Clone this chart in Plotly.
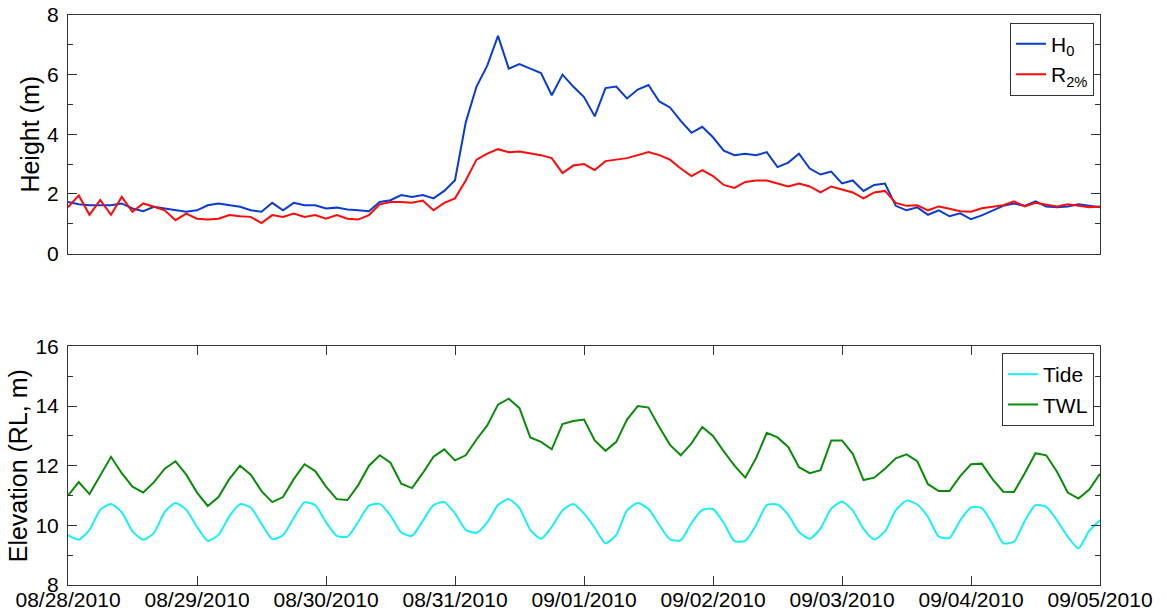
import pandas as pd
import plotly.graph_objects as go
from plotly.subplots import make_subplots

# time axis: 2-hourly samples from 08/28/2010 00:00 to 09/05/2010 00:00
start = "2010-08-28 00:00"
n_samples = 97
step = "2h"

# H0 (m), one row per day (12 x 2h)
h0 = [
    1.73, 1.65, 1.62, 1.62, 1.62, 1.68, 1.51, 1.42, 1.57, 1.51, 1.45, 1.40,
    1.45, 1.62, 1.68, 1.62, 1.57, 1.45, 1.40, 1.70, 1.45, 1.70, 1.62, 1.62,
    1.51, 1.54, 1.48, 1.45, 1.42, 1.73, 1.79, 1.96, 1.90, 1.96, 1.85, 2.10,
    2.46, 4.40, 5.60, 6.30, 7.30, 6.20, 6.35, 6.20, 6.05, 5.31, 6.00, 5.60,
    5.25, 4.60, 5.55, 5.60, 5.20, 5.50, 5.65, 5.10, 4.90, 4.45, 4.05, 4.25,
    3.90, 3.45, 3.30, 3.35, 3.30, 3.40, 2.90, 3.05, 3.35, 2.85, 2.65, 2.75,
    2.35, 2.45, 2.10, 2.30, 2.35, 1.60, 1.45, 1.55, 1.30, 1.45, 1.25, 1.35,
    1.15, 1.28, 1.45, 1.60, 1.68, 1.60, 1.75, 1.58, 1.55, 1.58, 1.65, 1.60,
    1.55,
]

# R2% (m)
r2 = [
    1.55, 1.95, 1.30, 1.80, 1.30, 1.90, 1.40, 1.68, 1.57, 1.45, 1.12, 1.34,
    1.17, 1.14, 1.17, 1.29, 1.25, 1.23, 1.02, 1.29, 1.23, 1.34, 1.23, 1.29,
    1.17, 1.29, 1.17, 1.14, 1.29, 1.65, 1.73, 1.73, 1.70, 1.78, 1.45, 1.70,
    1.85, 2.45, 3.15, 3.35, 3.50, 3.40, 3.42, 3.35, 3.30, 3.20, 2.70, 2.95,
    3.00, 2.80, 3.10, 3.15, 3.20, 3.30, 3.40, 3.30, 3.15, 2.85, 2.60, 2.80,
    2.60, 2.30, 2.20, 2.40, 2.45, 2.45, 2.35, 2.25, 2.35, 2.25, 2.05, 2.25,
    2.15, 2.05, 1.85, 2.05, 2.10, 1.70, 1.60, 1.62, 1.45, 1.58, 1.50, 1.42,
    1.40, 1.52, 1.57, 1.62, 1.75, 1.58, 1.70, 1.65, 1.58, 1.65, 1.60, 1.55,
    1.58,
]

# Tide (RL, m)
tide = [
    9.67, 9.52, 9.85, 10.52, 10.72, 10.44, 9.80, 9.52, 9.75, 10.45, 10.75, 10.52,
    9.95, 9.48, 9.68, 10.30, 10.71, 10.60, 10.05, 9.54, 9.67, 10.25, 10.77, 10.68,
    10.10, 9.65, 9.62, 10.12, 10.66, 10.72, 10.33, 9.76, 9.65, 10.15, 10.68, 10.78,
    10.40, 9.85, 9.75, 10.10, 10.68, 10.88, 10.58, 9.85, 9.55, 9.95, 10.50, 10.72,
    10.40, 9.92, 9.40, 9.68, 10.50, 10.75, 10.55, 10.02, 9.53, 9.50, 10.08, 10.52,
    10.55, 10.08, 9.47, 9.48, 10.00, 10.68, 10.70, 10.35, 9.78, 9.55, 9.90, 10.56,
    10.79, 10.50, 9.88, 9.53, 9.80, 10.50, 10.83, 10.70, 10.28, 9.62, 9.58, 10.17,
    10.60, 10.58, 10.05, 9.40, 9.45, 10.15, 10.68, 10.62, 10.17, 9.62, 9.23, 9.82,
    10.17,
]

# TWL (RL, m)
twl = [
    11.00, 11.45, 11.05, 11.70, 12.30, 11.75, 11.30, 11.10, 11.45, 11.90, 12.15, 11.70,
    11.10, 10.65, 10.95, 11.55, 12.00, 11.70, 11.15, 10.78, 10.95, 11.55, 12.05, 11.82,
    11.30, 10.88, 10.85, 11.35, 12.00, 12.35, 12.10, 11.40, 11.25, 11.75, 12.30, 12.55,
    12.18, 12.35, 12.88, 13.35, 14.05, 14.25, 13.93, 12.95, 12.80, 12.55, 13.40, 13.50,
    13.55, 12.85, 12.50, 12.80, 13.55, 14.00, 13.95, 13.30, 12.70, 12.35, 12.75, 13.30,
    13.00, 12.48, 12.00, 11.60, 12.25, 13.10, 12.95, 12.63, 11.95, 11.75, 11.85, 12.85,
    12.85, 12.40, 11.52, 11.60, 11.90, 12.25, 12.38, 12.15, 11.38, 11.15, 11.15, 11.65,
    12.05, 12.07, 11.55, 11.13, 11.12, 11.75, 12.42, 12.35, 11.80, 11.10, 10.90, 11.20,
    11.73,
]

x_range = ["2010-08-28", "2010-09-05"]
top_yticks = [0, 2, 4, 6, 8]
bot_yticks = [8, 10, 12, 14, 16]

times = pd.date_range(start, periods=n_samples, freq=step)

FONT = "Liberation Sans, Arial, sans-serif"
AX = "#333333"

fig = make_subplots(rows=2, cols=1, shared_xaxes=False, vertical_spacing=0.163)

fig.add_trace(go.Scatter(x=times, y=h0, mode="lines", name="H<sub>0</sub>",
                         line=dict(color="#0a3cd2", width=2), legend="legend"), row=1, col=1)
fig.add_trace(go.Scatter(x=times, y=r2, mode="lines", name="R<sub>2%</sub>",
                         line=dict(color="#ff0a0a", width=2), legend="legend"), row=1, col=1)
fig.add_trace(go.Scatter(x=times, y=tide, mode="lines", name="Tide",
                         line=dict(color="#19f0f5", width=2, shape="spline", smoothing=0.6),
                         legend="legend2"), row=2, col=1)
fig.add_trace(go.Scatter(x=times, y=twl, mode="lines", name="TWL",
                         line=dict(color="#0a8c0a", width=2), legend="legend2"), row=2, col=1)

common_x = dict(type="date", range=x_range, showgrid=False, zeroline=False,
                showline=True, linecolor=AX, linewidth=1, mirror=True, automargin=False)
fig.update_xaxes(**common_x, ticks="", showticklabels=False, row=1, col=1)
fig.update_xaxes(**common_x, ticks="inside", ticklen=9, tickcolor=AX, dtick=86400000,
                 tickformat="%m/%d/%Y", tick0="2010-08-28", ticklabelstandoff=-4,
                 row=2, col=1)
fig.update_layout(xaxis2=dict(mirror="ticks"))

common_y = dict(showgrid=False, zeroline=False, showline=True, linecolor=AX, linewidth=1,
                mirror="ticks", ticks="inside", ticklen=9, tickcolor=AX,
                minor=dict(dtick=1, ticks="inside", ticklen=5, tickcolor=AX),
                ticklabelstandoff=4, automargin=False)
fig.update_yaxes(**common_y, range=[0, 8], tickvals=top_yticks,
                 title=dict(text="Height (m)", standoff=0), row=1, col=1)
fig.update_yaxes(**common_y, range=[8, 16], tickvals=bot_yticks,
                 title=dict(text="Elevation (RL, m)", standoff=0), row=2, col=1)

fig.update_layout(
    width=1166, height=615,
    margin=dict(l=68, r=66, t=15, b=30, autoexpand=False),
    paper_bgcolor="white", plot_bgcolor="white",
    font=dict(family=FONT, size=21, color="black"),
    legend=dict(x=0.9942, y=0.9865, xanchor="right", yanchor="top",
                bordercolor="#333333", borderwidth=1, bgcolor="white",
                font=dict(size=21), tracegroupgap=0),
    legend2=dict(x=0.9942, y=0.407, xanchor="right", yanchor="top",
                 bordercolor="#333333", borderwidth=1, bgcolor="white",
                 font=dict(size=21), tracegroupgap=0),
    showlegend=True,
)

fig.write_html("out.html")
